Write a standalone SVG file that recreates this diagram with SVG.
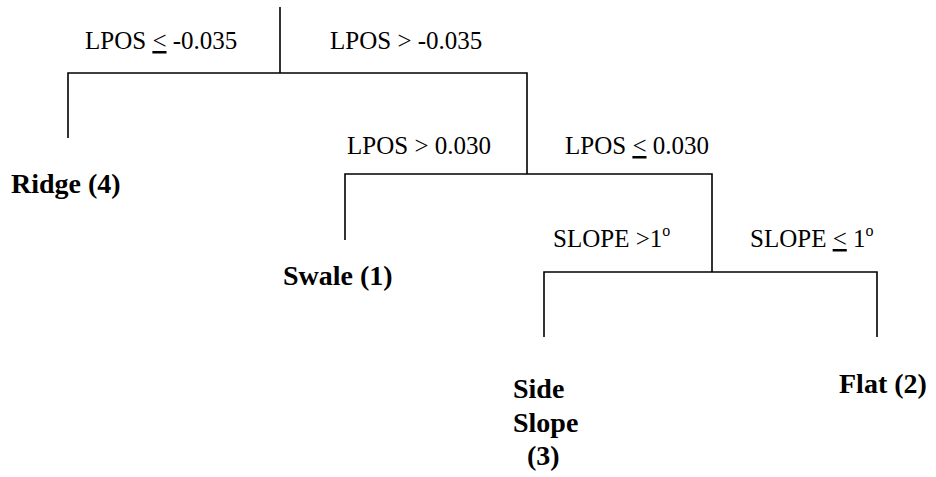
<svg xmlns="http://www.w3.org/2000/svg" width="936" height="477" viewBox="0 0 936 477">
  <style>
    .edge { fill: none; stroke: #000; stroke-width: 1.6; }
    text { fill: #000; font-family: "Liberation Serif", "Times New Roman", serif; }
    .cond { font-size: 25px; }
    .leaf { font-size: 28px; font-weight: bold; }
    .ul { text-decoration: underline; }
    .deg { font-size: 16px; }
  </style>
  <rect width="936" height="477" fill="#fff"/>

  <!-- tree branches -->
  <g id="connectors">
    <path class="edge" d="M280,7 V73 M68,138 V73 H527 V174"/>
    <path class="edge" d="M345,240 V174 H712 V272"/>
    <path class="edge" d="M544,337 V272 H877 V337"/>
  </g>

  <!-- split conditions -->
  <g id="split-root">
    <text class="cond" x="85" y="49">LPOS <tspan class="ul">&lt;</tspan> -0.035</text>
    <text class="cond" x="330" y="49">LPOS &gt; -0.035</text>
  </g>
  <g id="split-lpos">
    <text class="cond" x="347" y="154">LPOS &gt; 0.030</text>
    <text class="cond" x="565" y="154">LPOS <tspan class="ul">&lt;</tspan> 0.030</text>
  </g>
  <g id="split-slope">
    <text class="cond" x="553" y="247">SLOPE &gt;1<tspan class="deg" dy="-11">o</tspan></text>
    <text class="cond" x="750" y="247">SLOPE <tspan class="ul">&lt;</tspan> 1<tspan class="deg" dy="-11">o</tspan></text>
  </g>

  <!-- leaf classes -->
  <g id="leaf-ridge">
    <text class="leaf" x="11" y="193">Ridge (4)</text>
  </g>
  <g id="leaf-swale">
    <text class="leaf" x="283" y="285">Swale (1)</text>
  </g>
  <g id="leaf-sideslope">
    <text class="leaf" x="513" y="398">Side</text>
    <text class="leaf" x="513" y="432">Slope</text>
    <text class="leaf" x="527" y="465">(3)</text>
  </g>
  <g id="leaf-flat">
    <text class="leaf" x="839" y="393">Flat (2)</text>
  </g>
</svg>
